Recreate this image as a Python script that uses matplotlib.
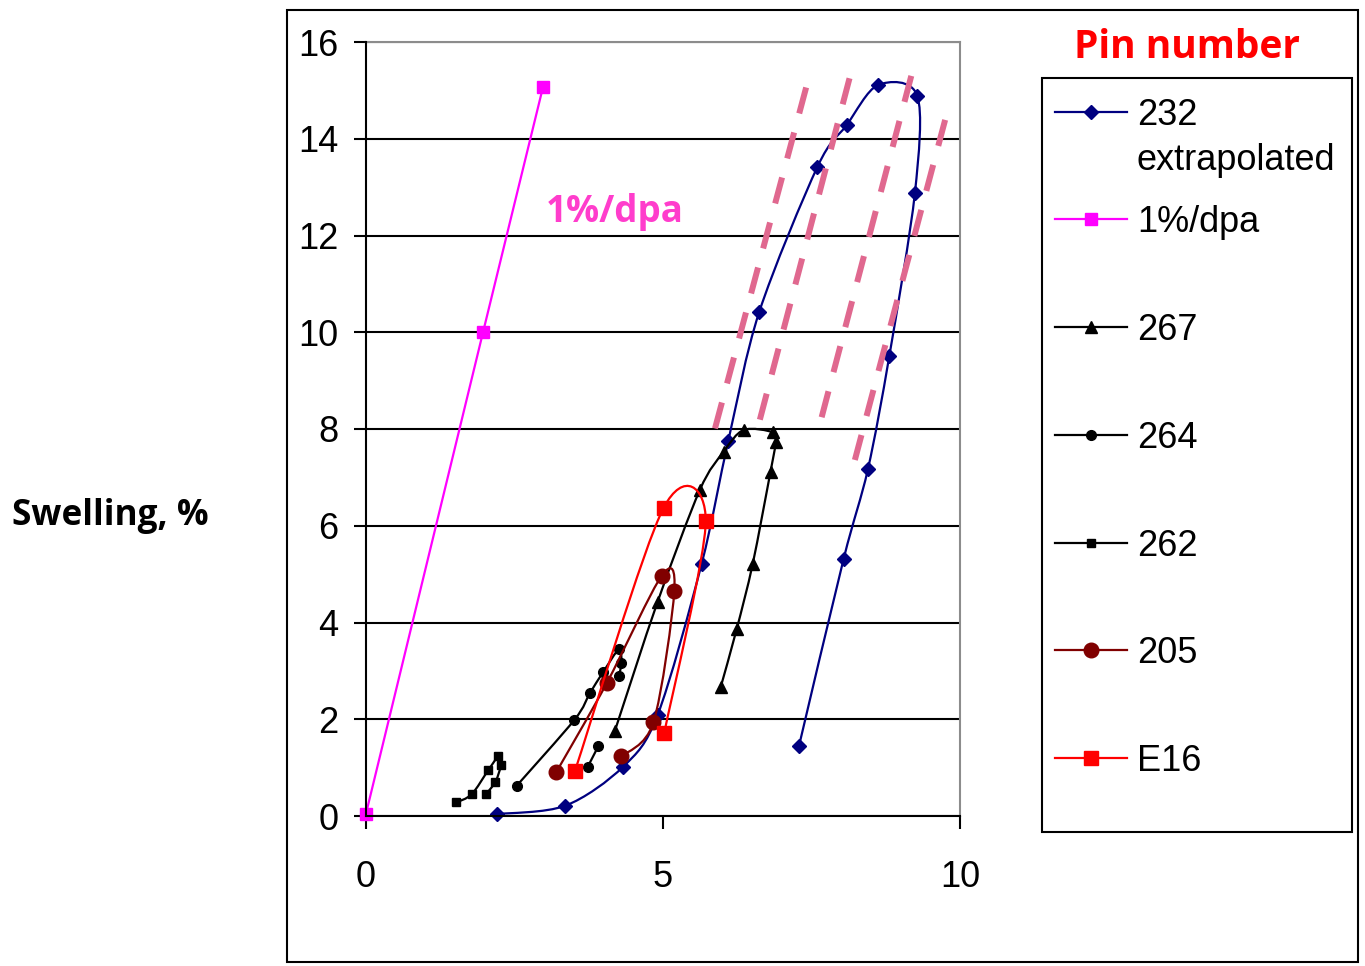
import numpy as np
import matplotlib.pyplot as plt
from matplotlib.path import Path
from matplotlib.patches import PathPatch, Rectangle
from matplotlib.lines import Line2D

# dose (dpa) vs swelling (%)
x232 = [2.20, 3.35, 4.33, 4.91, 5.65, 6.10, 6.62, 7.60, 8.09, 8.62, 9.28, 9.24, 8.81, 8.45, 8.04, 7.29]
y232 = [0.04, 0.21, 1.02, 2.09, 5.21, 7.76, 10.42, 13.42, 14.28, 15.11, 14.89, 12.87, 9.51, 7.17, 5.31, 1.45]

x_dpa = [0.0, 1.97, 2.98]
y_dpa = [0.05, 10.0, 15.07]

x267 = [4.19, 4.91, 5.62, 6.02, 6.36, 6.86, 6.90, 6.81, 6.51, 6.24, 5.97]
y267 = [1.76, 4.43, 6.74, 7.53, 7.98, 7.93, 7.74, 7.12, 5.21, 3.86, 2.66]

# blank cell in the sheet -> gap in the line
x264 = [2.54, 3.51, 3.77, 3.99, 4.26, 4.30, 4.26, np.nan, 3.73, 3.91]
y264 = [0.63, 1.99, 2.54, 2.97, 3.45, 3.17, 2.90, np.nan, 1.01, 1.44]

x262 = [1.52, 1.78, 2.06, 2.23, 2.27, 2.18, 2.02]
y262 = [0.28, 0.45, 0.95, 1.23, 1.05, 0.71, 0.45]

x205 = [3.20, 4.05, 4.98, 5.19, 4.84, 4.30]
y205 = [0.90, 2.74, 4.97, 4.65, 1.94, 1.23]

xE16 = [3.52, 5.01, 5.72, 5.02]
yE16 = [0.94, 6.37, 6.10, 1.71]

# hand drawn dashed guide lines (start x, start y, end x, end y)
guide_x0 = [5.875, 6.63, 7.67, 8.23]
guide_y0 = [8.01, 8.19, 8.24, 7.36]
guide_x1 = [7.41, 8.14, 9.18, 9.75]
guide_y1 = [15.06, 15.25, 15.30, 14.39]

labels = ['232', '1%/dpa', '267', '264', '262', '205', 'E16']
colors = ['#000080', '#FF00FF', 'black', 'black', 'black', '#800000', '#FF0000']
markers = ['D', 's', '^', 'o', 's', 'o', 's']
msizes = [6.8, 9, 9, 7, 6, 10.5, 9.5]
xs_all = [x232, x_dpa, x267, x264, x262, x205, xE16]
ys_all = [y232, y_dpa, y267, y264, y262, y205, yE16]

plt.rcParams['font.family'] = ['Liberation Sans', 'DejaVu Sans']


def smooth_path(xs, ys):
    # Excel like smoothed line: cubic bezier through each point
    pts = np.column_stack([xs, ys])
    n = len(pts)
    verts = [pts[0]]
    codes = [Path.MOVETO]
    for i in range(n - 1):
        p0 = pts[max(i - 1, 0)]
        p1 = pts[i]
        p2 = pts[i + 1]
        p3 = pts[min(i + 2, n - 1)]
        verts += [p1 + (p2 - p0) / 6.5, p2 - (p3 - p1) / 6.5, p2]
        codes += [Path.CURVE4] * 3
    return Path(verts, codes)


def pieces(xs, ys):
    xs = np.asarray(xs, float)
    ys = np.asarray(ys, float)
    bad = np.isnan(xs)
    out, start = [], 0
    for i in range(len(xs) + 1):
        if i == len(xs) or bad[i]:
            if i - start > 1:
                out.append((xs[start:i], ys[start:i]))
            start = i + 1
    return out


fig = plt.figure(figsize=(13.65, 9.66), dpi=100)

# full figure overlay in pixel units for the frame, legend and titles
lax = fig.add_axes([0, 0, 1, 1], zorder=0)
lax.set_xlim(0, 1365)
lax.set_ylim(966, 0)
lax.axis('off')

ax = fig.add_axes([366 / 1365, 150 / 966, 594 / 1365, 774 / 966], zorder=1)

for k in range(len(labels)):
    for px, py in pieces(xs_all[k], ys_all[k]):
        if k == 1:
            ax.plot(px, py, color=colors[k], lw=1.6, zorder=2 + k)
        else:
            ax.add_patch(PathPatch(smooth_path(px, py), fill=False,
                                   edgecolor=colors[k], lw=1.6, zorder=2 + k))
    ax.plot(xs_all[k], ys_all[k], ls='none', marker=markers[k], ms=msizes[k],
            color=colors[k], mec=colors[k], zorder=2.5 + k, clip_on=False)

for i in range(len(guide_x0)):
    ax.plot([guide_x1[i], guide_x0[i]], [guide_y1[i], guide_y0[i]], color='#E0688F',
            lw=4.3, dashes=(4.5, 3.3), zorder=12)

ax.text(4.19, 12.28, '1%/dpa', color='#FF3DCC', fontsize=26.5, fontweight='bold',
        family='Open Sans', ha='center', va='baseline')

ax.set_xlim(0, 10)
ax.set_ylim(0, 16)
ax.set_xticks([0, 5, 10])
ax.set_yticks(range(0, 17, 2))
ax.tick_params(direction='out', length=9, width=1.5, labelsize=26)
ax.tick_params(axis='y', pad=11)
ax.tick_params(axis='x', pad=23)
ax.grid(axis='y', color='black', lw=1.5)
ax.set_axisbelow(True)
for s in ['left', 'bottom']:
    ax.spines[s].set_linewidth(1.5)
    ax.spines[s].set_zorder(20)
for s in ['top', 'right']:
    ax.spines[s].set_color('#8C8C8C')
    ax.spines[s].set_linewidth(1.5)

# outer chart frame and legend box
lax.add_patch(Rectangle((287, 10), 1071, 952, fill=False, lw=1.5, ec='black'))
lax.add_patch(Rectangle((1041.7, 78.3), 310, 754, fill=False, lw=1.5, ec='black'))

lax.text(12, 525, 'Swelling, %', fontsize=25.3, fontweight='bold', family='Open Sans',
         ha='left', va='baseline')
lax.text(1187, 58.3, 'Pin number', fontsize=28, fontweight='bold', family='Open Sans',
         color='#FF0000', ha='center', va='baseline')

leg_y = [111.7 + 107.7 * i for i in range(len(labels))]
for k in range(len(labels)):
    y = leg_y[k]
    lax.add_line(Line2D([1055, 1127], [y, y], color=colors[k], lw=1.6))
    lax.add_line(Line2D([1091], [y], ls='none', marker=markers[k], ms=msizes[k],
                        color=colors[k], mec=colors[k]))
    lax.text(1137, y + 13, labels[k], fontsize=26, ha='left', va='baseline')
lax.text(1137, leg_y[0] + 58, 'extrapolated', fontsize=26, ha='left', va='baseline')

fig.savefig('out.png', dpi=100)
